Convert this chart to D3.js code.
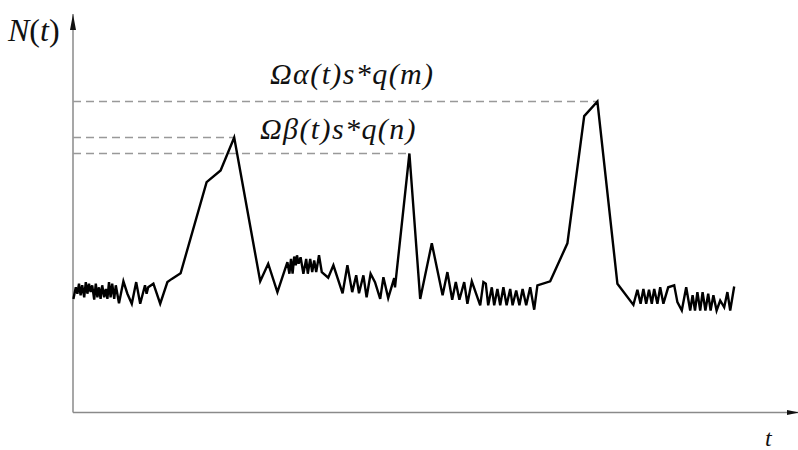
<!DOCTYPE html>
<html lang='en'>
  <head>
    <meta charset='utf-8'>
    <style>
      body { margin: 0; background: #fff; }
      svg { display: block; }
    </style>
  </head>
  <body>
    <div id='chart'></div>

    <script src='https://cdn.jsdelivr.net/npm/d3@7'></script>
    <script>
      // time samples and N(t)
      var tVals = [0.1, 0.7, 1.1, 1.5, 1.9, 2.3, 2.8, 3.2, 3.6, 4.0, 4.4, 4.8, 5.3, 5.7, 6.1, 6.5, 6.9, 7.3, 7.8, 8.2,
        8.6, 9.0, 9.4, 9.8, 10.3, 10.7, 11.5, 12.6, 13.6, 14.7, 15.8, 16.8, 18.0, 18.4, 18.8, 20.1, 21.8, 23.6, 24.7, 26.9,
        33.4, 36.9, 40.3, 46.8, 48.8, 51.1, 53.6, 54.1, 54.5, 54.9, 55.3, 55.7, 56.0, 56.4, 56.9, 57.6, 58.3, 58.7, 59.3, 59.8,
        60.3, 60.8, 61.5, 62.2, 63.8, 65.1, 67.4, 68.6, 69.8, 70.8, 71.5, 72.6, 73.4, 74.4, 75.5, 76.8, 77.6, 78.8, 80.3, 80.5,
        84.1, 86.8, 89.7, 92.4, 93.6, 94.8, 95.7, 96.6, 97.8, 98.6, 99.7, 101.8, 102.6, 103.2, 103.8, 104.7, 105.3, 106.1, 106.8, 107.6,
        108.4, 109.3, 109.9, 110.8, 111.6, 112.4, 113.3, 114.3, 115.3, 116.1, 119.3, 123.6, 127.8, 131.1, 136.1, 140.1, 141.1, 141.9, 142.6, 143.3,
        144.0, 144.7, 145.3, 146.1, 146.8, 147.6, 148.8, 150.3, 151.1, 152.2, 153.3, 154.3, 154.9, 155.5, 156.1, 156.8, 157.4, 158.1, 158.8, 159.4,
        160.1, 160.9, 161.8, 162.8, 163.6, 164.3, 165.3];
      var nVals = [28.4, 31.3, 29.7, 32.2, 29.3, 31.8, 28.8, 32.6, 29.7, 32.2, 30.1, 31.8, 28.2, 32.2, 28.8, 31.3, 28.4, 31.8, 28.8, 30.9,
        28.4, 32.6, 28.8, 32.2, 28.4, 31.8, 27.3, 32.8, 29.7, 27.2, 32.6, 27.2, 31.8, 29.7, 31.3, 32.2, 27.2, 32.6, 33.4, 34.8,
        57.6, 60.5, 68.75, 32.8, 37.2, 30.1, 37.6, 34.7, 38.4, 34.7, 39.0, 36.8, 39.3, 37.2, 38.8, 34.7, 38.4, 34.7, 38.4, 35.1,
        38.0, 35.1, 39.3, 35.1, 33.7, 36.8, 29.8, 36.8, 30.1, 34.3, 29.8, 34.3, 28.8, 34.7, 32.6, 28.4, 33.8, 28.6, 33.6, 31.3,
        64.75, 28.4, 42.3, 29.3, 35.1, 28.2, 32.6, 28.2, 32.6, 27.2, 32.8, 26.8, 32.6, 32.2, 26.8, 31.3, 26.8, 30.9, 26.8, 31.3,
        26.8, 30.9, 26.8, 30.5, 26.8, 30.9, 26.8, 31.3, 25.7, 31.8, 32.8, 42.3, 74.1, 77.75, 32.2, 26.9, 30.7, 27.2, 30.9, 27.2,
        30.7, 27.2, 30.9, 27.2, 31.3, 27.2, 31.3, 31.8, 27.6, 25.5, 31.3, 25.5, 29.3, 25.5, 30.1, 25.5, 30.1, 25.5, 29.7, 25.5,
        29.3, 25.5, 28.0, 26.3, 30.1, 25.5, 31.5];

      // the three peaks and their labels
      var peakT = [131.1, 40.3, 84.1];
      var peakLabels = ['Ωα(t)s*q(m)', 'Ωβ(t)s*q(n)', null];

      var width = 798, height = 450;
      var serif = "'Liberation Serif', 'DejaVu Serif', 'Noto Serif', serif";
      var data = tVals.map(function (t, i) { return { t: t, n: nVals[i] }; });

      var x = d3.scaleLinear().domain([0, 180]).range([73, 793]);
      var y = d3.scaleLinear().domain([0, 100]).range([412.5, 12.5]);

      var svg = d3.select('#chart').append('svg')
          .attr('width', width)
          .attr('height', height);

      var defs = svg.append('defs');
      defs.append('marker')
          .attr('id', 'arrow-up')
          .attr('viewBox', '0 0 6 16')
          .attr('refX', 3).attr('refY', 0)
          .attr('markerUnits', 'userSpaceOnUse')
          .attr('markerWidth', 6).attr('markerHeight', 16)
          .attr('orient', 0)
        .append('path')
          .attr('d', 'M0,16 L3,0 L6,16 Z')
          .attr('fill', '#111');
      defs.append('marker')
          .attr('id', 'arrow-right')
          .attr('viewBox', '0 0 12 5')
          .attr('refX', 12).attr('refY', 2.5)
          .attr('markerUnits', 'userSpaceOnUse')
          .attr('markerWidth', 12).attr('markerHeight', 5)
          .attr('orient', 0)
        .append('path')
          .attr('d', 'M0,0 L12,2.5 L0,5 Z')
          .attr('fill', '#111');

      // axes
      svg.append('line')
          .attr('x1', x(0)).attr('y1', y(0))
          .attr('x2', x(0)).attr('y2', 14)
          .attr('stroke', '#8a8a8a').attr('stroke-width', 1.5)
          .attr('marker-end', 'url(#arrow-up)');
      svg.append('line')
          .attr('x1', x(0)).attr('y1', y(0))
          .attr('x2', 799).attr('y2', y(0))
          .attr('stroke', '#8a8a8a').attr('stroke-width', 1.5)
          .attr('marker-end', 'url(#arrow-right)');

      // dashed reference lines to each peak
      var peaks = peakT.map(function (pt) {
        return data.find(function (d) { return d.t === pt; });
      });
      svg.selectAll('line.ref')
          .data(peaks)
        .enter().append('line')
          .attr('class', 'ref')
          .attr('x1', x(0))
          .attr('x2', function (d) { return x(d.t); })
          .attr('y1', function (d) { return y(d.n); })
          .attr('y2', function (d) { return y(d.n); })
          .attr('stroke', '#999')
          .attr('stroke-width', 1.3)
          .attr('stroke-dasharray', '8,5');

      // the signal
      var line = d3.line()
          .x(function (d) { return x(d.t); })
          .y(function (d) { return y(d.n); });
      svg.append('path')
          .datum(data)
          .attr('d', line)
          .attr('fill', 'none')
          .attr('stroke', '#000')
          .attr('stroke-width', 2.4)
          .attr('stroke-linejoin', 'miter');

      // peak labels
      svg.append('text')
          .attr('x', 270).attr('y', y(peaks[0].n) - 18)
          .attr('font-family', serif)
          .attr('font-size', 30).attr('font-style', 'italic')
          .attr('letter-spacing', 1.4)
          .attr('fill', '#111')
          .text(peakLabels[0]);
      svg.append('text')
          .attr('x', 260).attr('y', y(peaks[1].n) + 1)
          .attr('font-family', serif)
          .attr('font-size', 30).attr('font-style', 'italic')
          .attr('letter-spacing', 1.4)
          .attr('fill', '#111')
          .text(peakLabels[1]);

      // axis titles
      var yt = svg.append('text')
          .attr('x', 8).attr('y', 41)
          .attr('font-family', serif)
          .attr('font-size', 32)
          .attr('fill', '#111');
      yt.append('tspan').attr('font-style', 'italic').text('N');
      yt.append('tspan').text('(');
      yt.append('tspan').attr('font-style', 'italic').text('t');
      yt.append('tspan').text(')');

      svg.append('text')
          .attr('x', 765).attr('y', 446)
          .attr('font-family', serif)
          .attr('font-size', 24).attr('font-style', 'italic')
          .attr('fill', '#111')
          .text('t');
    </script>
  </body>
</html>
